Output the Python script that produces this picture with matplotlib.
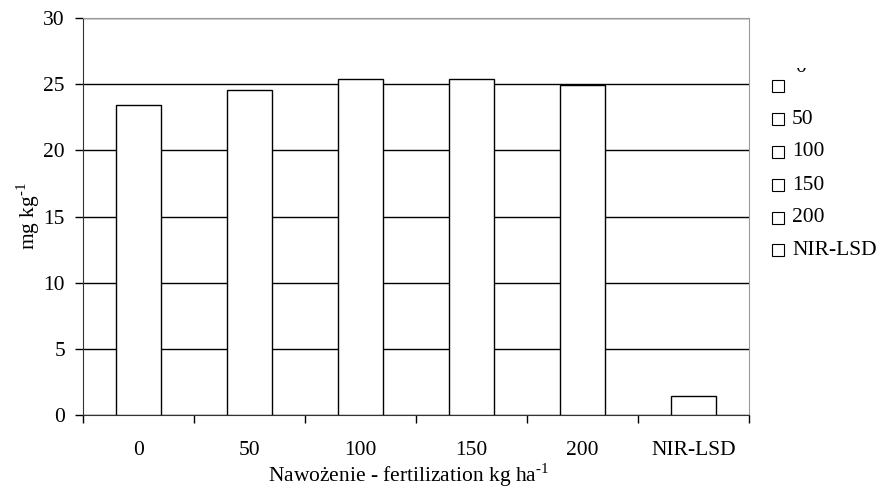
import matplotlib
matplotlib.use("Agg")
import matplotlib.pyplot as plt
from matplotlib.patches import Rectangle
from matplotlib.transforms import Bbox
import numpy as np

# data
categories = ["0", "50", "100", "150", "200", "NIR-LSD"]
values = [23.4, 24.55, 25.4, 25.4, 24.95, 1.43]
legend_labels = ["0", "50", "100", "150", "200", "NIR-LSD"]
yticks = [0, 5, 10, 15, 20, 25, 30]

W, H = 885, 490
plt.rcParams["font.family"] = ["Liberation Serif", "DejaVu Serif"]
plt.rcParams["font.size"] = 15.5
plt.rcParams["mathtext.fontset"] = "custom"
plt.rcParams["mathtext.rm"] = "Liberation Serif"

fig = plt.figure(figsize=(W / 100, H / 100), dpi=100)
ax = fig.add_axes([83 / W, 1 - 415 / H, (749 - 83) / W, (415 - 18) / H])

x = np.arange(len(categories))
ax.bar(x, values, width=0.4, color="white", edgecolor="black", linewidth=1, zorder=3)

ax.set_xlim(-0.5, len(categories) - 0.5)
ax.set_ylim(0, 30)
ax.set_yticks(yticks)
ax.yaxis.grid(True, color="black", linewidth=1, zorder=0)
ax.tick_params(axis="y", direction="out", length=6, width=1, pad=7)

# category boundaries as tick marks, labels centred between them
ax.set_xticks(np.arange(len(categories) + 1) - 0.5)
ax.set_xticklabels([])
ax.tick_params(axis="x", which="major", direction="out", length=6, width=1)
ax.set_xticks(x, minor=True)
ax.set_xticklabels(categories, minor=True)
ax.tick_params(axis="x", which="minor", length=0, pad=19)

for s in ["left", "bottom"]:
    ax.spines[s].set_color("#333333")
for s in ["top", "right"]:
    ax.spines[s].set_color("#999999")

fig.text(28 / W, 1 - 216 / H, r"mg kg$^{\text{-1}}$", rotation=90, ha="center", va="center")
fig.text(409 / W, 1 - 482 / H, r"Nawożenie - fertilization kg ha$^{\text{-1}}$",
         ha="center", va="baseline")

# legend drawn by hand (first label is shifted up and cut off in the original)
ys = [86, 119, 152, 185, 218, 250]
for i, (lab, yy) in enumerate(zip(legend_labels, ys)):
    fig.patches.append(Rectangle((772 / W, 1 - (yy + 6) / H), 12 / W, 12 / H,
                                 transform=fig.transFigure, facecolor="white",
                                 edgecolor="black", linewidth=0.8))
    if i == 0:
        t = fig.text(795 / W, 1 - 72 / H, lab, ha="left", va="baseline")
        t.set_clip_box(Bbox([[780, 0], [885, H - 68]]))
        t.set_clip_on(True)
    else:
        fig.text(792 / W, 1 - yy / H, lab, ha="left", va="center")

fig.savefig("out.png", dpi=100)
